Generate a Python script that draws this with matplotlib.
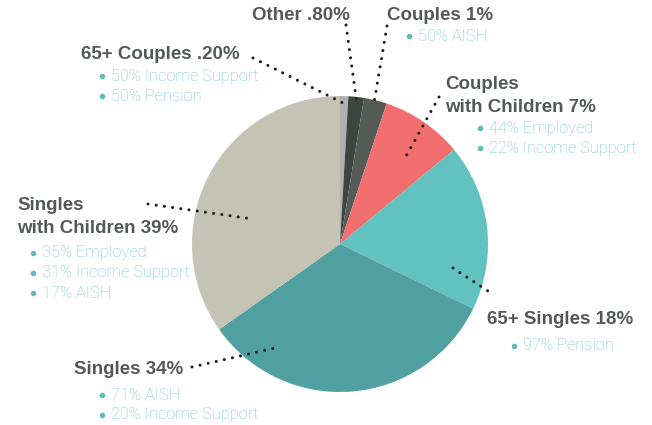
import matplotlib
matplotlib.use('Agg')
import matplotlib.pyplot as plt

# Slices, clockwise from 12 o'clock (sizes as drawn in the picture)
slice_names = ['65+ Couples', 'Other', 'Couples', 'Couples with Children',
               '65+ Singles', 'Singles', 'Singles with Children']
slice_sizes = [0.9, 1.7, 2.5, 8.9, 18.2, 33.0, 34.8]
slice_colors = ['#b1b1b4', '#3e4440', '#545a56', '#f06e6e',
                '#62c2c0', '#50a0a1', '#c5c3b3']

# Label texts: (title lines, bullet lines)
titles = {
    '65+ Couples': ['65+ Couples .20%'],
    'Other': ['Other .80%'],
    'Couples': ['Couples 1%'],
    'Couples with Children': ['Couples', 'with Children 7%'],
    '65+ Singles': ['65+ Singles 18%'],
    'Singles': ['Singles 34%'],
    'Singles with Children': ['Singles', 'with Children 39%'],
}
bullets = {
    '65+ Couples': ['50% Income Support', '50% Pension'],
    'Other': [],
    'Couples': ['50% AISH'],
    'Couples with Children': ['44% Employed', '22% Income Support'],
    '65+ Singles': ['97% Pension'],
    'Singles': ['71% AISH', '20% Income Support'],
    'Singles with Children': ['35% Employed', '31% Income Support', '17% AISH'],
}

W, H = 652, 425

# layout in pixel coords (x, y from top)
title_pos = {
    '65+ Couples': (81, 54),
    'Other': (252, 15),
    'Couples': (387, 15),
    'Couples with Children': (445, 84),
    '65+ Singles': (487, 320),
    'Singles': (74, 370),
    'Singles with Children': (17, 205),
}
bullet_pos = {
    '65+ Couples': (102, 76),
    'Other': (0, 0),
    'Couples': (409, 36),
    'Couples with Children': (480, 128),
    '65+ Singles': (514, 346),
    'Singles': (102, 395),
    'Singles with Children': (33, 253),
}
leaders = {
    '65+ Couples': ((253, 58), (345, 104)),
    'Other': ((346, 25), (357, 104)),
    'Couples': ((387, 26), (374, 103)),
    'Couples with Children': ((439, 97), (405, 158)),
    '65+ Singles': ((453, 268), (494, 295)),
    'Singles': ((192, 367), (275, 348)),
    'Singles with Children': ((148, 204), (253, 219)),
}

fig = plt.figure(figsize=(W / 100, H / 100), dpi=100)
ax = fig.add_axes([0, 0, 1, 1])

ax.pie(slice_sizes, colors=slice_colors, startangle=90, counterclock=False,
       center=(340, H - 244), radius=148,
       wedgeprops={'linewidth': 0})
ax.set_xlim(0, W)
ax.set_ylim(0, H)
ax.set_aspect('equal')
ax.axis('off')

title_color = '#555955'
sub_color = '#6fcac6'
dot_color = '#5dbdb9'

for name in slice_names:
    tx, ty = title_pos[name]
    for i, line in enumerate(titles[name]):
        ax.text(tx, H - (ty + i * 23), line, fontsize=13.5, fontweight='bold',
                family='Liberation Sans', color=title_color,
                ha='left', va='center')
    bx, by = bullet_pos[name]
    for i, line in enumerate(bullets[name]):
        y = H - (by + i * 20)
        ax.plot(bx, y, 'o', ms=4, color=dot_color, mec='none')
        ax.text(bx + 9, y, line, fontsize=11.8, fontweight='light',
                family='Roboto', color=sub_color, ha='left', va='center')
    (x0, y0), (x1, y1) = leaders[name]
    ax.plot([x0, x1], [H - y0, H - y1], color='#1e1e1e', lw=2.2,
            dashes=(0.01, 2.7), dash_capstyle='round')

fig.savefig('out.png', dpi=100)
